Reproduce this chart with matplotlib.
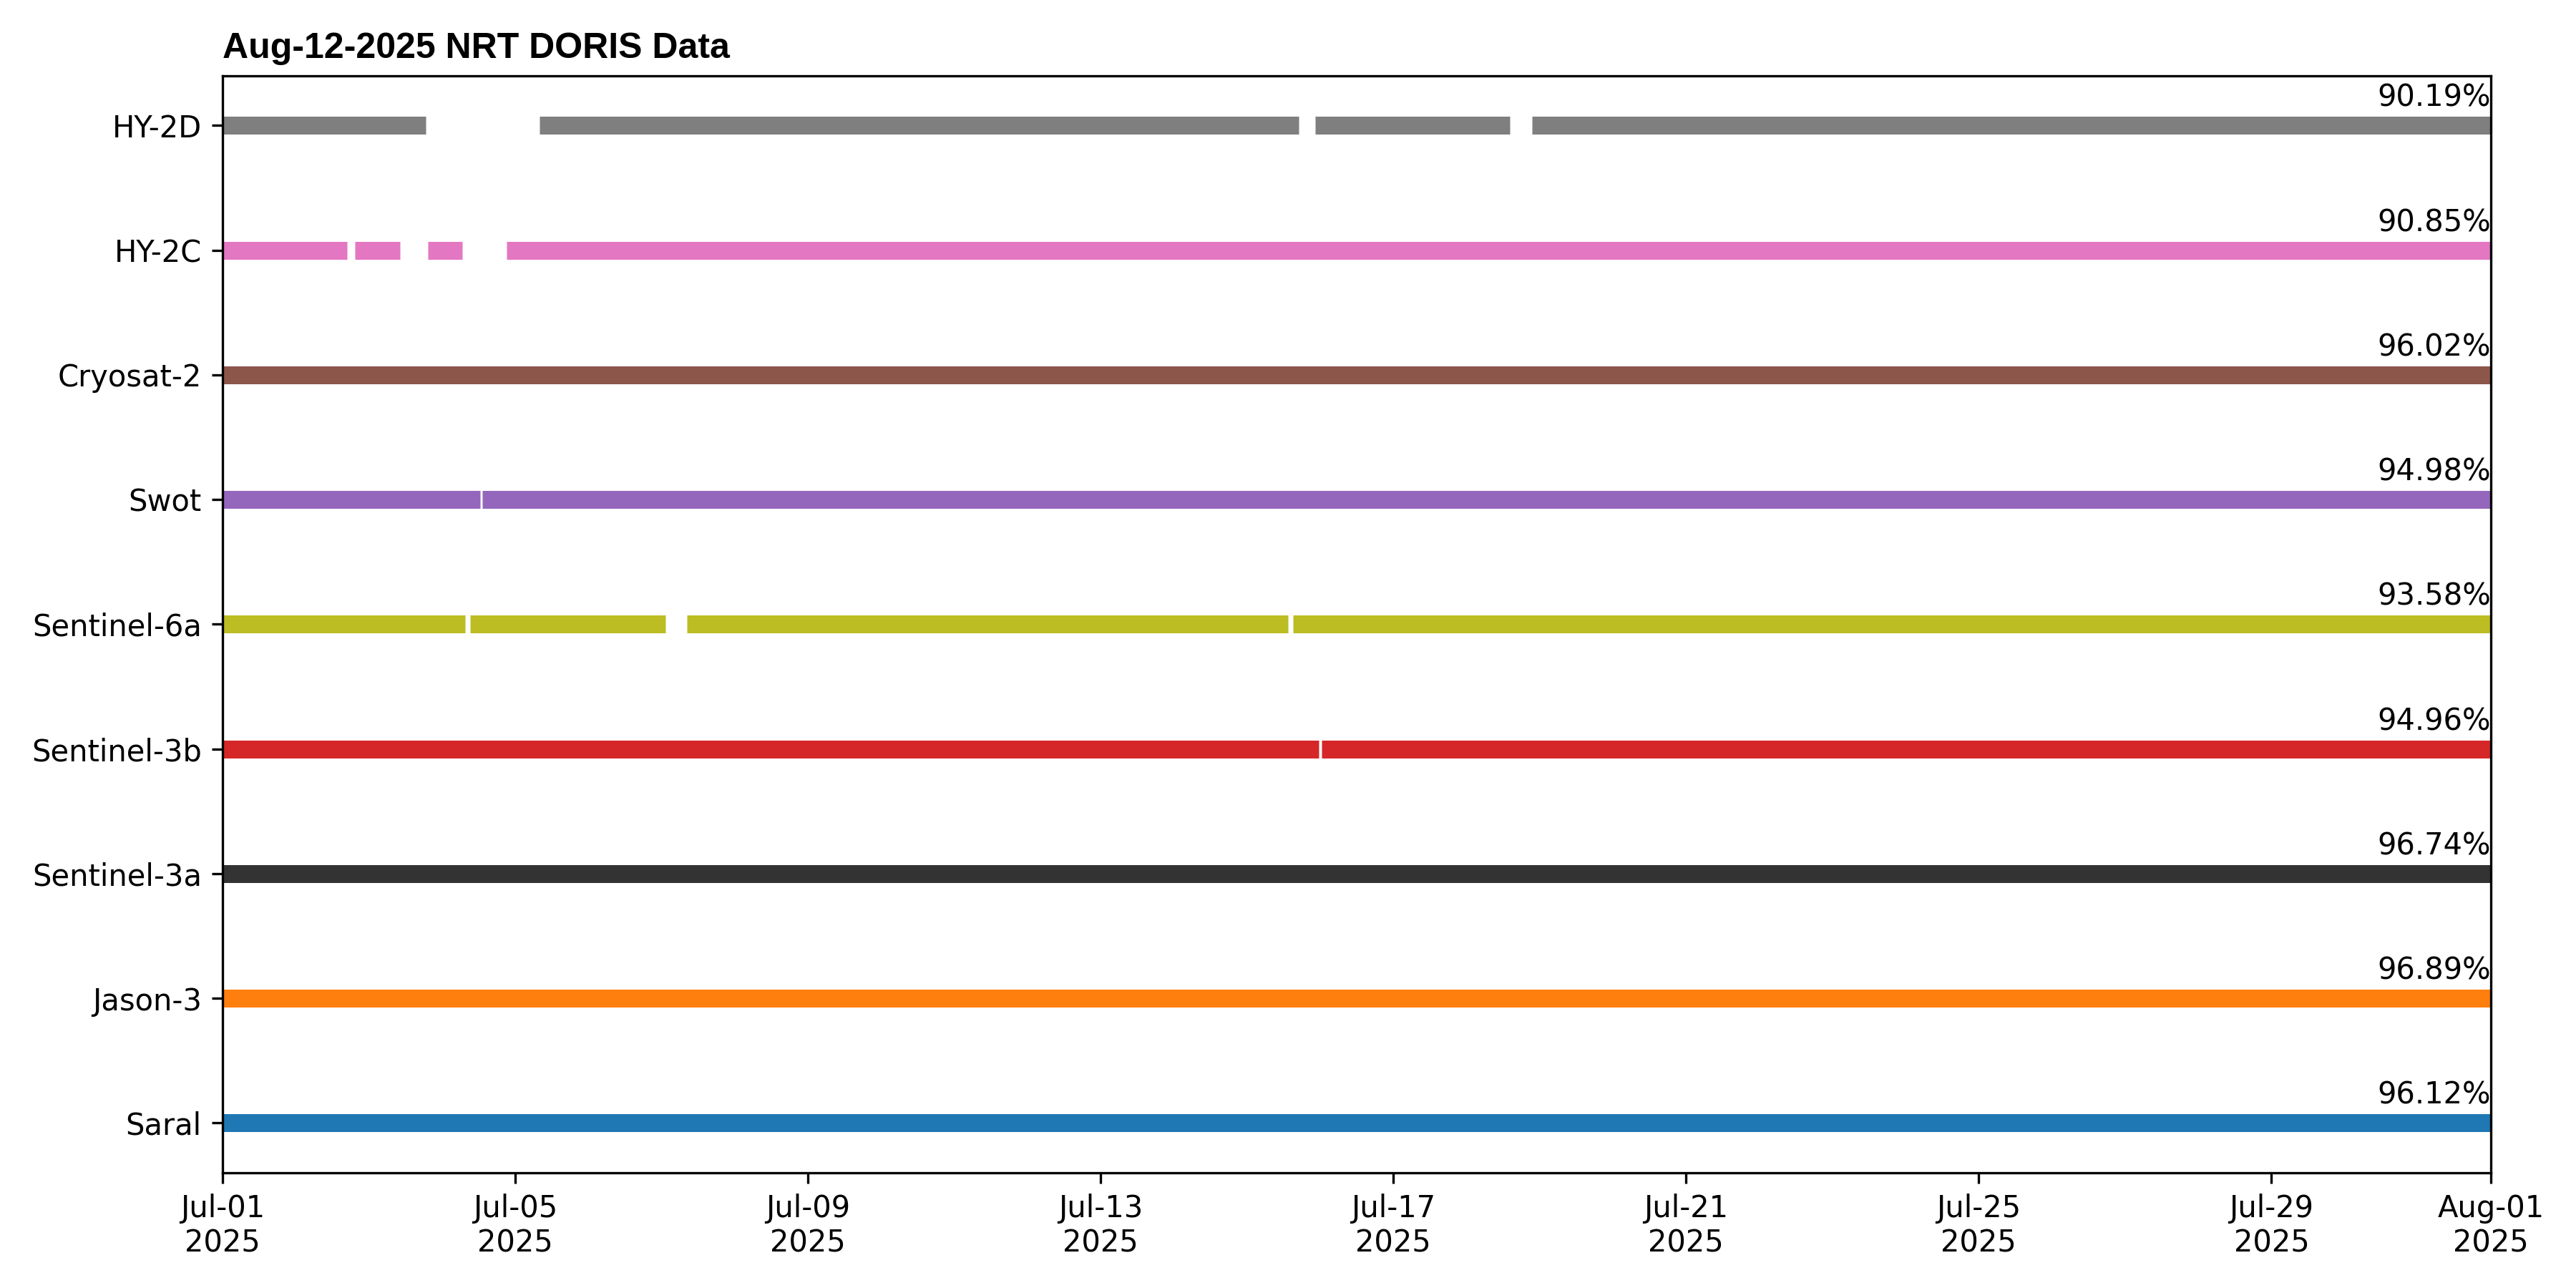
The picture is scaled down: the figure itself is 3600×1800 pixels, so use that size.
import datetime as dt
import matplotlib
matplotlib.use("Agg")
import matplotlib.pyplot as plt
import matplotlib.dates as mdates

# satellites, bottom to top
satellites = ["Saral", "Jason-3", "Sentinel-3a", "Sentinel-3b", "Sentinel-6a",
              "Swot", "Cryosat-2", "HY-2C", "HY-2D"]
colors = ["tab:blue", "tab:orange", "#333333", "tab:red", "tab:olive",
          "tab:purple", "tab:brown", "tab:pink", "tab:gray"]
percent = [96.12, 96.89, 96.74, 94.96, 93.58, 94.98, 96.02, 90.85, 90.19]

# data segments, in days since Jul-01
segments = {
    "Saral": [(0, 31)],
    "Jason-3": [(0, 31)],
    "Sentinel-3a": [(0, 31)],
    "Sentinel-3b": [(0, 14.98), (15.02, 31)],
    "Sentinel-6a": [(0, 3.31), (3.38, 6.05), (6.35, 14.56), (14.63, 31)],
    "Swot": [(0, 3.52), (3.55, 31)],
    "Cryosat-2": [(0, 31)],
    "HY-2C": [(0, 1.70), (1.81, 2.42), (2.81, 3.28), (3.88, 31)],
    "HY-2D": [(0, 2.78), (4.33, 14.71), (14.93, 17.59), (17.89, 31)],
}

start = dt.datetime(2025, 7, 1)
end = dt.datetime(2025, 8, 1)
tick_days = [0, 4, 8, 12, 16, 20, 24, 28, 31]

fig, ax = plt.subplots(figsize=(12, 6), dpi=300)
t0 = mdates.date2num(start)

for i, name in enumerate(satellites):
    for a, b in segments[name]:
        ax.hlines(i, t0 + a, t0 + b, colors=colors[i], linewidth=6)
    ax.text(mdates.date2num(end), i + 0.1, f"{percent[i]:.2f}%",
            ha="right", va="bottom", fontsize=10)

ax.set_yticks(range(len(satellites)))
ax.set_yticklabels(satellites)
ax.set_xlim(start, end)
ax.set_xticks([t0 + d for d in tick_days])
ax.xaxis.set_major_formatter(mdates.DateFormatter("%b-%d\n%Y"))
ax.set_title("Aug-12-2025 NRT DORIS Data", loc="left", fontsize=12,
             fontweight="bold", family="Liberation Sans")

fig.subplots_adjust(left=0.0864, right=0.967, top=0.9413, bottom=0.0894)
fig.savefig("out.png", dpi=300)
